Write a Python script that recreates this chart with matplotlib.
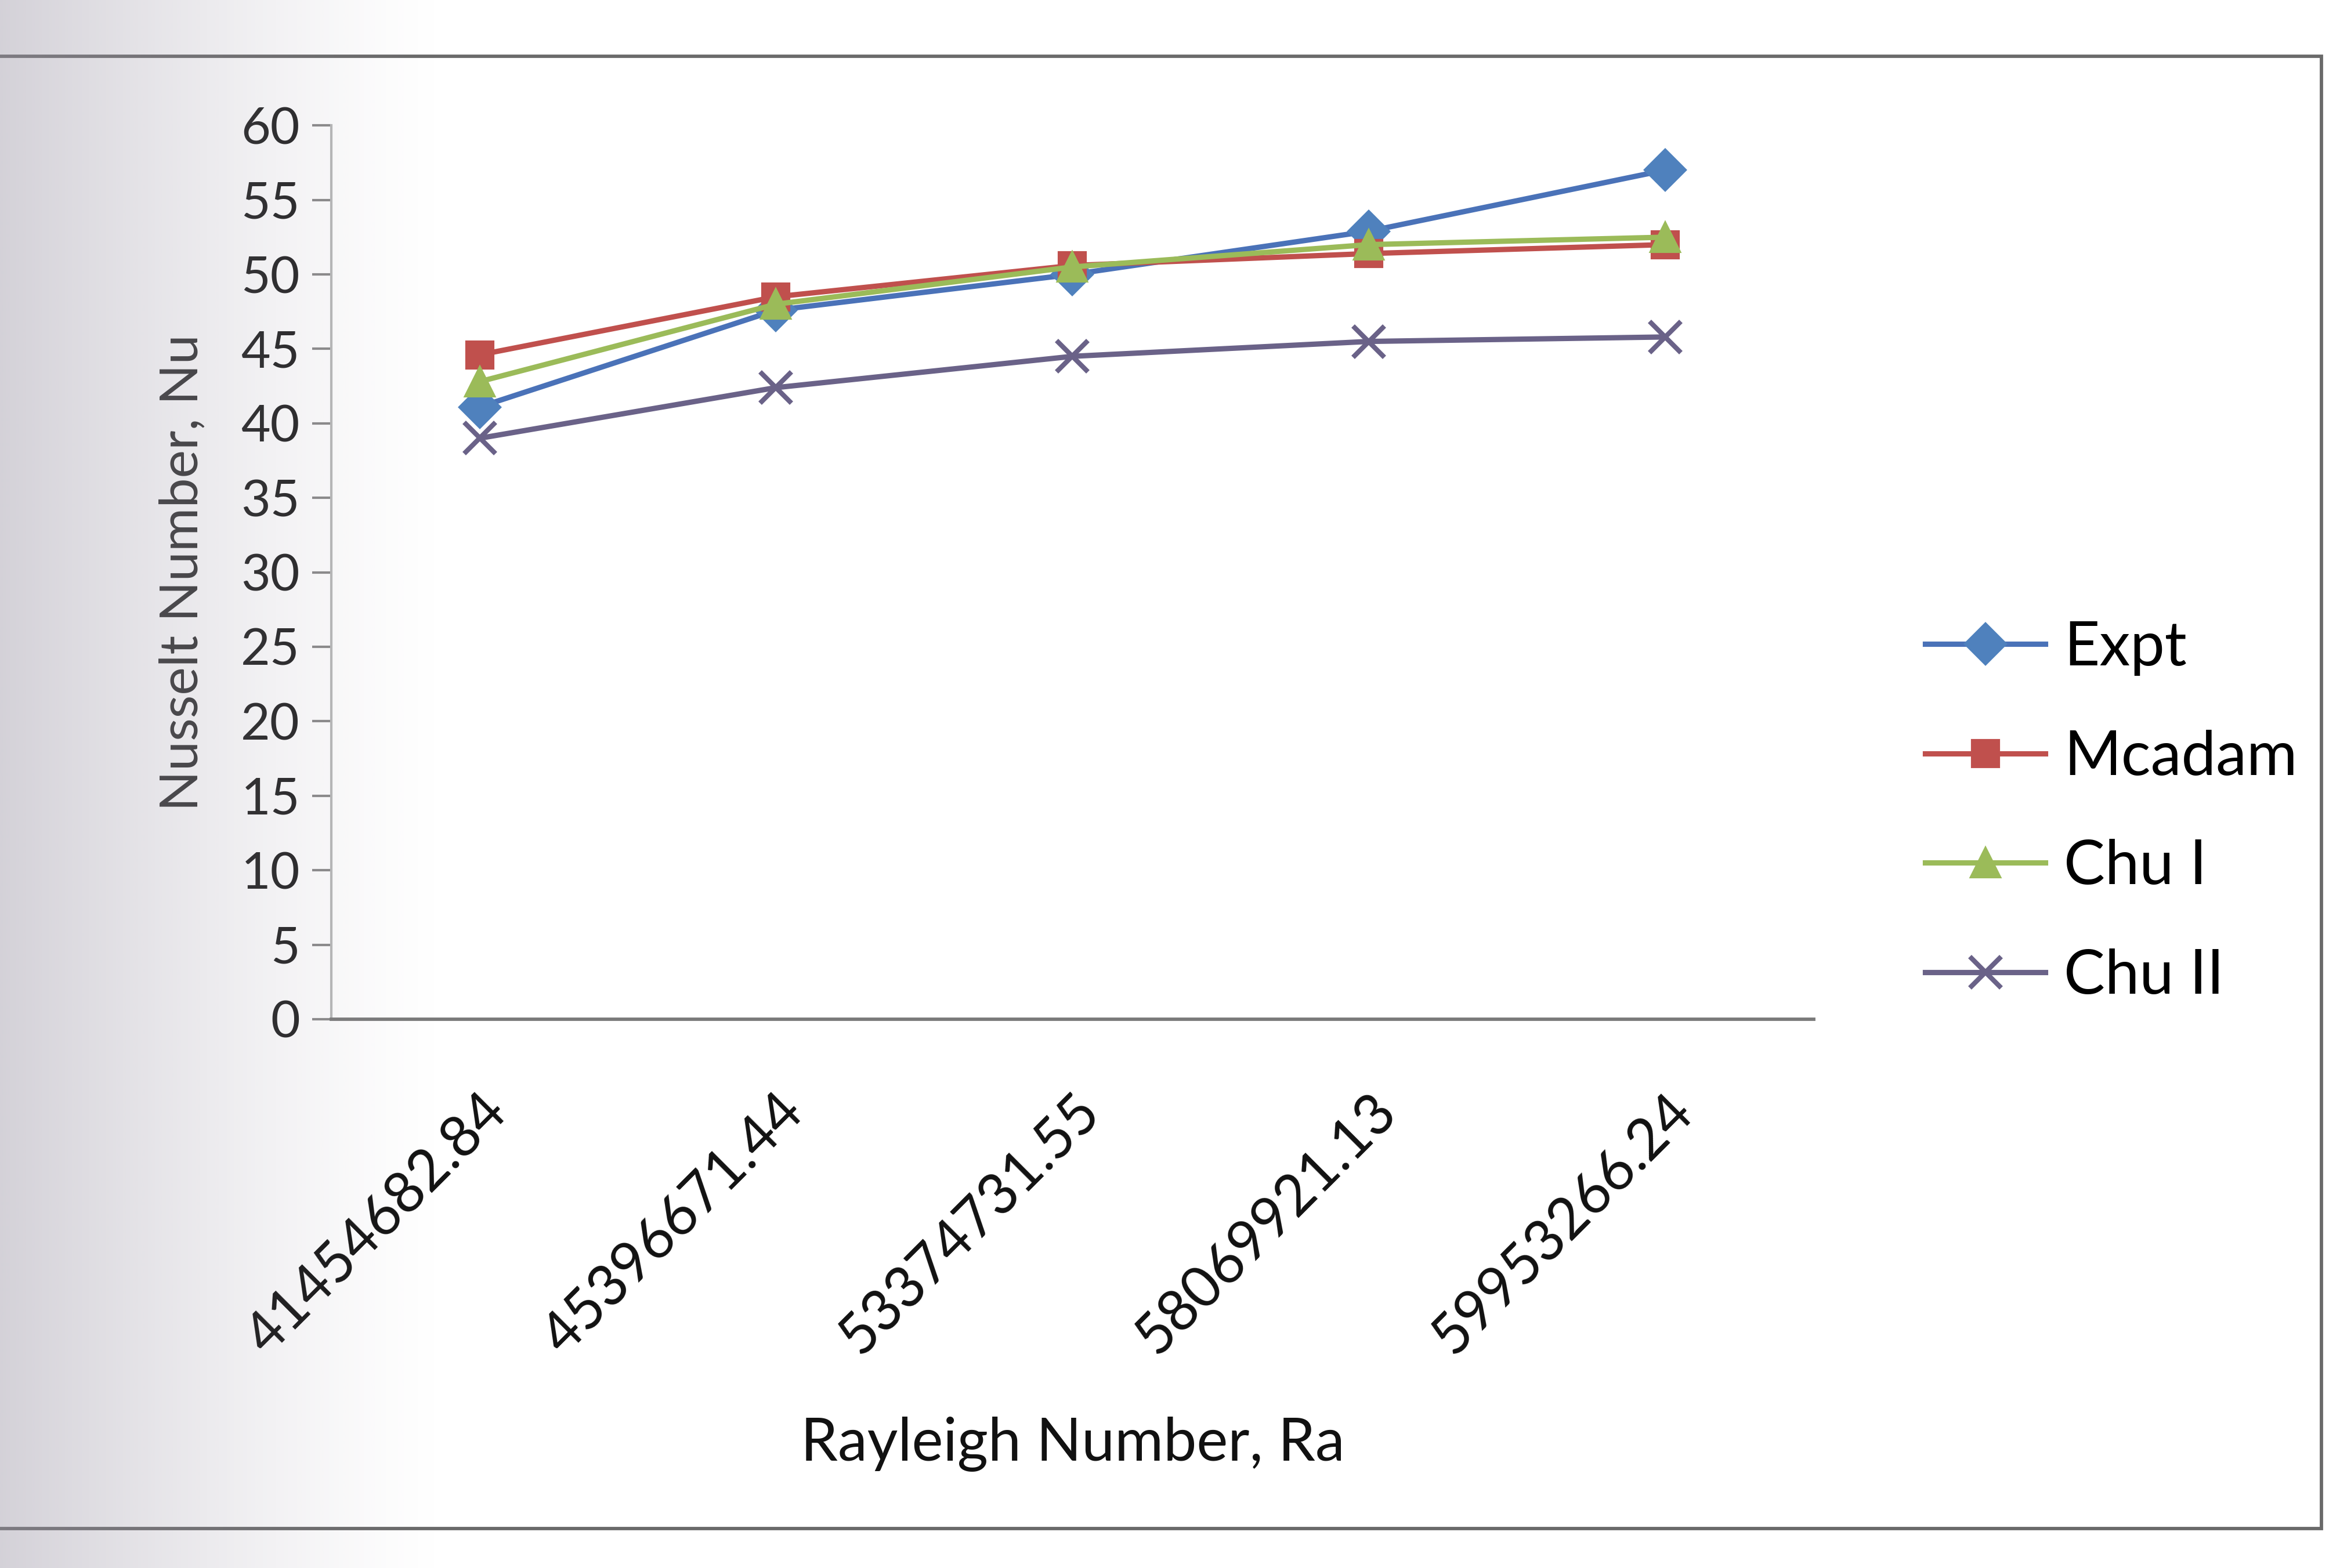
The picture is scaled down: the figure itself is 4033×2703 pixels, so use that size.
import numpy as np
import matplotlib
matplotlib.use("Agg")
import matplotlib.pyplot as plt
from matplotlib.patches import Rectangle

plt.rcParams['font.family'] = ['Lato', 'DejaVu Sans']

# Rayleigh numbers (category labels) and Nusselt numbers per correlation
ra_labels = ["41454682.84", "45396671.44", "53374731.55", "58069921.13", "59953266.24"]
nu_expt = [41.1, 47.6, 50.0, 52.9, 57.0]
nu_mcadam = [44.6, 48.5, 50.6, 51.4, 52.0]
nu_chu1 = [42.8, 48.0, 50.5, 52.0, 52.5]
nu_chu2 = [39.0, 42.4, 44.5, 45.5, 45.8]
y_ticks = list(range(0, 61, 5))

series = [
    ("Expt", nu_expt, "#4A72B8", "#4F81BD", "D", 12),
    ("Mcadam", nu_mcadam, "#C0504D", "#C0504D", "s", 11),
    ("Chu I", nu_chu1, "#9BBB59", "#9BBB59", "^", 12),
    ("Chu II", nu_chu2, "#6A6288", "#6A6288", "x", 13),
]

fig = plt.figure(figsize=(4033 / 300, 2703 / 300), dpi=300)
fig.patch.set_facecolor("white")

ax = fig.add_axes([0.1416, 0.350, 0.775 - 0.1416, 0.570])
x = np.arange(len(ra_labels))
for name, vals, lc, mc, mk, ms in series:
    ax.plot(x, vals, color=lc, lw=2.2, marker=mk, markersize=ms,
            markerfacecolor=mc, markeredgecolor=mc,
            markeredgewidth=2.0 if mk == "x" else 1.0, label=name)

ax.set_xlim(-0.5, len(ra_labels) - 0.5)
ax.set_ylim(0, 60)
ax.set_yticks(y_ticks)
ax.set_yticklabels([str(v) for v in y_ticks])
ax.set_xticks(x)
ax.set_xticklabels(ra_labels, rotation=45, ha="right", va="top",
                   rotation_mode="anchor")
ax.tick_params(axis="x", length=0, pad=27, labelsize=23.5, labelcolor="#111111")
ax.tick_params(axis="y", direction="out", length=8, width=1.0, color="#8a8a8a",
               pad=5, labelsize=21, labelcolor="#222222")

for side in ("top", "right"):
    ax.spines[side].set_visible(False)
ax.spines["left"].set_color("#b8b8b8")
ax.spines["left"].set_linewidth(1.0)
ax.spines["bottom"].set_color("#7a7a7a")
ax.spines["bottom"].set_linewidth(1.4)

ax.set_xlabel("Rayleigh Number, Ra", fontsize=24.5, labelpad=22, color="#111111")
ax.set_ylabel("Nusselt Number, Nu", fontsize=22, labelpad=14, color="#333333")

ax.legend(loc="center left", bbox_to_anchor=(0.8227, 0.482),
          bbox_transform=fig.transFigure, frameon=False, fontsize=25.5,
          handlelength=1.95, handletextpad=0.3, labelspacing=0.87,
          borderpad=0, borderaxespad=0)

# chart-area border
fig.add_artist(Rectangle((-0.01, 0.025), 1.002, 0.939, transform=fig.transFigure,
                         fill=False, edgecolor="#6a6a6a", linewidth=1.4))

# soft grey shading along the left edge of the page
shade = fig.add_axes([0, 0, 1, 1], zorder=10)
shade.set_axis_off()
w = 400
xs = np.linspace(0, 1, w)
alpha = np.clip(1 - xs / 0.19, 0, 1) ** 1.3 * 0.42
rgba = np.zeros((2, w, 4))
rgba[..., 0] = 0.60
rgba[..., 1] = 0.58
rgba[..., 2] = 0.64
rgba[..., 3] = alpha
shade.imshow(rgba, extent=[0, 1, 0, 1], aspect="auto", interpolation="bilinear")
shade.set_xlim(0, 1)
shade.set_ylim(0, 1)

fig.savefig("out.png", dpi=300, facecolor="white")
